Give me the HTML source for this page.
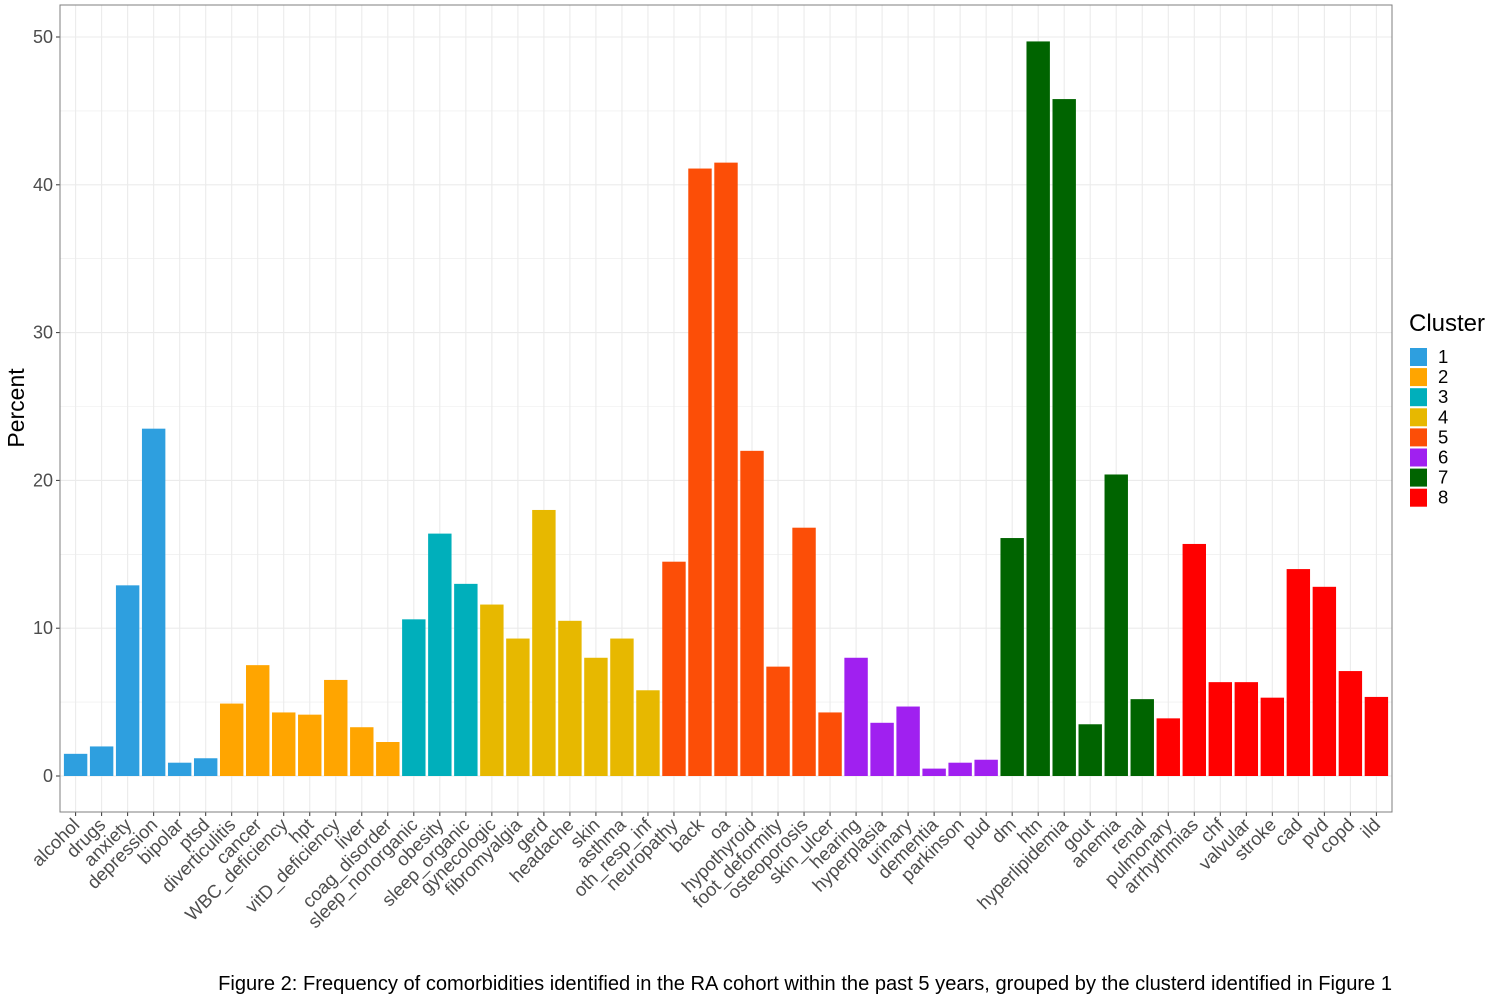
<!DOCTYPE html>
<html><head><meta charset="utf-8"><style>
html,body{margin:0;padding:0;background:#fff;}
svg{display:block;font-family:"Liberation Sans",Arial,sans-serif;}
</style></head><body>
<svg id="chart" width="1500" height="1000" viewBox="0 0 1500 1000">
<rect x="0" y="0" width="1500" height="1000" fill="#fff"/>
<g id="grid"></g><g id="bars"></g><g id="xlabels"></g><g id="ylabels"></g><g id="legend"></g>
<rect x="60" y="5" width="1332" height="807" fill="none" stroke="#7f7f7f" stroke-width="1"/>
<text x="24" y="408" font-size="23" text-anchor="middle" transform="rotate(-90 24 408)" fill="#000">Percent</text>
<text x="1392" y="990" font-size="20.1" text-anchor="end" fill="#000">Figure 2: Frequency of comorbidities identified in the RA cohort within the past 5 years, grouped by the clusterd identified in Figure 1</text>
</svg>
<script>
const categories=["alcohol","drugs","anxiety","depression","bipolar","ptsd","diverticulitis","cancer","WBC_deficiency","hpt","vitD_deficiency","liver","coag_disorder","sleep_nonorganic","obesity","sleep_organic","gynecologic","fibromyalgia","gerd","headache","skin","asthma","oth_resp_inf","neuropathy","back","oa","hypothyroid","foot_deformity","osteoporosis","skin_ulcer","hearing","hyperplasia","urinary","dementia","parkinson","pud","dm","htn","hyperlipidemia","gout","anemia","renal","pulmonary","arrhythmias","chf","valvular","stroke","cad","pvd","copd","ild"];
const values=[1.5,2.0,12.9,23.5,0.9,1.2,4.9,7.5,4.3,4.15,6.5,3.3,2.3,10.6,16.4,13.0,11.6,9.3,18.0,10.5,8.0,9.3,5.8,14.5,41.1,41.5,22.0,7.4,16.8,4.3,8.0,3.6,4.7,0.5,0.9,1.1,16.1,49.7,45.8,3.5,20.4,5.2,3.9,15.7,6.35,6.35,5.3,14.0,12.8,7.1,5.35];
const clusters=[1,1,1,1,1,1,2,2,2,2,2,2,2,3,3,3,4,4,4,4,4,4,4,5,5,5,5,5,5,5,6,6,6,6,6,6,7,7,7,7,7,7,8,8,8,8,8,8,8,8,8];
const clusterLabels=["1","2","3","4","5","6","7","8"];
const clusterColors=["#2E9FDF","#FFA500","#00AFBB","#E7B800","#FC4E07","#A020F0","#006400","#FF0000"];
const yTicks=[0,10,20,30,40,50];
const NS="http://www.w3.org/2000/svg";
const px0=60,px1=1392,y0px=776,y50px=37;
const step=(px1-px0)/(categories.length-1+1.2);
function xs(i){return px0+step*(0.6+i);}
function ys(v){return y0px+(y50px-y0px)*v/50;}
function mk(tag,attrs,parent){const e=document.createElementNS(NS,tag);for(const k in attrs)e.setAttribute(k,attrs[k]);parent.appendChild(e);return e;}
const grid=document.getElementById('grid'),bars=document.getElementById('bars'),xl=document.getElementById('xlabels'),yl=document.getElementById('ylabels'),lg=document.getElementById('legend');
for(let v=-5;v<=55;v+=5){const y=ys(v);if(y<5||y>812)continue;
 const l=mk('line',{x1:px0,x2:px1,y1:y,y2:y,stroke:'#ebebeb','stroke-width':(v%10===0)?1.1:0.6},grid);
 
 }
categories.forEach((c,i)=>{const x=xs(i);
 const g=mk('line',{x1:x,x2:x,y1:5,y2:812,stroke:'#ebebeb','stroke-width':1.1},grid);
 
 
 const w=step*0.9,top=ys(values[i]);
 const r=mk('rect',{x:x-w/2,y:top,width:w,height:y0px-top,fill:clusterColors[clusters[i]-1]},bars);
 
 
 const t=mk('line',{x1:x,x2:x,y1:812,y2:816,stroke:'#333','stroke-width':1},xl);
 
 
 const tx=mk('text',{x:x+5,y:826,'font-size':18.5,fill:'#4d4d4d','text-anchor':'end',transform:`rotate(-45 ${x+5} 826)`},xl);
 tx.textContent=c;
 
 
});
yTicks.forEach(v=>{const y=ys(v);
 const t=mk('line',{x1:56,x2:60,y1:y,y2:y,stroke:'#333'},yl);
 
 
 const tx=mk('text',{x:53,y:y+6,'font-size':18,fill:'#4d4d4d','text-anchor':'end'},yl);
 tx.textContent=v;
 
 
});
const lt=mk('text',{x:1409,y:331,'font-size':24,fill:'#000'},lg);
lt.textContent='Cluster';


clusterLabels.forEach((c,i)=>{const y=348+i*20.1;
 const r=mk('rect',{x:1410,y:y,width:17,height:18,fill:clusterColors[i]},lg);
 
 
 const t=mk('text',{x:1438,y:y+15,'font-size':18.5,fill:'#000'},lg);
 t.textContent=c;
 
 
});
</script>
</body></html>
